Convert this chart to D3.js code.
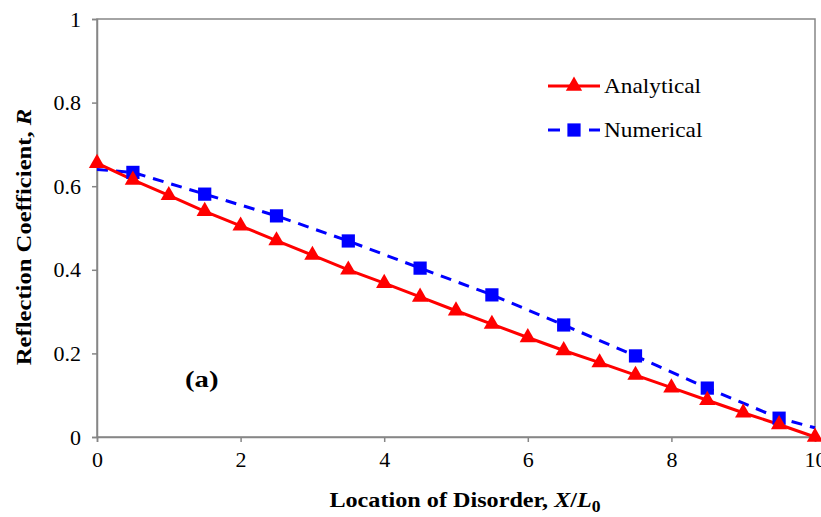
<!DOCTYPE html>
<html><head><meta charset="utf-8">
<script src="https://cdn.jsdelivr.net/npm/d3@7"></script>
<style>body{margin:0;background:#fff}svg{display:block}</style>
</head><body>
<script>
const analyticalX = [0,0.5,1,1.5,2,2.5,3,3.5,4,4.5,5,5.5,6,6.5,7,7.5,8,8.5,9,9.5,10];
const analyticalY = [0.655,0.615,0.578,0.540,0.505,0.470,0.435,0.400,0.368,0.335,0.302,0.270,0.238,0.207,0.178,0.148,0.118,0.088,0.058,0.030,0.0];
const numericalX = [0,0.5,1.5,2.5,3.5,4.5,5.5,6.5,7.5,8.5,9.5,10];
const numericalY = [0.640,0.633,0.581,0.529,0.469,0.404,0.340,0.268,0.194,0.117,0.045,0.022];
const xTicks = [0,2,4,6,8,10];
const yTicks = [0,0.2,0.4,0.6,0.8,1];

const W=821,H=517;
const svg=d3.select("body").append("svg").attr("width",W).attr("height",H);
const L=97,R=815,T=19,B=437;
const x=d3.scaleLinear().domain([0,10]).range([L,R]);
const y=d3.scaleLinear().domain([0,1]).range([B,T]);
const axisColor="#868686";
const serif="'Liberation Serif','Times New Roman',serif";

// plot frame
svg.append("rect").attr("x",L).attr("y",T).attr("width",R-L).attr("height",B-T)
  .attr("fill","none").attr("stroke",axisColor).attr("stroke-width",1.5);

const xa=svg.append("g").attr("transform",`translate(0,${B})`)
  .call(d3.axisBottom(x).tickValues(xTicks).tickSize(5).tickPadding(9).tickFormat(d3.format("d")));
const ya=svg.append("g").attr("transform",`translate(${L},0)`)
  .call(d3.axisLeft(y).tickValues(yTicks).tickSize(5).tickPadding(11).tickFormat(d=>d===0||d===1?String(d):d3.format(".1f")(d)));
[xa,ya].forEach(g=>{
  g.attr("font-family",serif);
  g.selectAll("path,line").attr("stroke",axisColor).attr("stroke-width",1.5);
  g.selectAll("text").attr("font-family",serif).attr("font-size",22).attr("fill","#000");
});

// lines
const line=d3.line().x(d=>x(d[0])).y(d=>y(d[1]));
const aData=analyticalX.map((v,i)=>[v,analyticalY[i]]);
const nData=numericalX.map((v,i)=>[v,numericalY[i]]);
svg.append("path").datum(nData).attr("d",line).attr("fill","none")
  .attr("stroke","#0000FF").attr("stroke-width",3).attr("stroke-dasharray","11,8");
svg.append("path").datum(aData).attr("d",line).attr("fill","none")
  .attr("stroke","#FF0000").attr("stroke-width",3);

const tri=d3.symbol().type(d3.symbolTriangle).size(115);
const sq=d3.symbol().type(d3.symbolSquare).size(175);
svg.selectAll(".sq").data(nData.slice(1,-1)).enter().append("path")
  .attr("d",sq).attr("transform",d=>`translate(${x(d[0])},${y(d[1])})`).attr("fill","#0000FF");
svg.selectAll(".tri").data(aData).enter().append("path")
  .attr("d",tri).attr("transform",d=>`translate(${x(d[0])},${y(d[1])})`).attr("fill","#FF0000");

// legend
const lg=svg.append("g");
lg.append("line").attr("x1",548).attr("x2",600).attr("y1",86).attr("y2",86).attr("stroke","#FF0000").attr("stroke-width",3);
lg.append("path").attr("d",tri).attr("transform","translate(574,86)").attr("fill","#FF0000");
lg.append("text").attr("transform","translate(604,93) scale(1.06,1)").text("Analytical").attr("font-family",serif).attr("font-size",22);
lg.append("line").attr("x1",548).attr("x2",560).attr("y1",130).attr("y2",130).attr("stroke","#0000FF").attr("stroke-width",3);
lg.append("line").attr("x1",589).attr("x2",600).attr("y1",130).attr("y2",130).attr("stroke","#0000FF").attr("stroke-width",3);
lg.append("path").attr("d",sq).attr("transform","translate(574,130)").attr("fill","#0000FF");
lg.append("text").attr("transform","translate(604,137) scale(1.06,1)").text("Numerical").attr("font-family",serif).attr("font-size",22);

// annotation
svg.append("text").attr("transform","translate(185,387) scale(1.25,1)").text("(a)").attr("font-family",serif).attr("font-size",23).attr("font-weight","bold");

// axis titles
const xt=svg.append("text").attr("transform","translate(465,507) scale(1.1,1)").attr("text-anchor","middle")
  .attr("font-family",serif).attr("font-size",22).attr("font-weight","bold");
xt.append("tspan").text("Location of Disorder, ");
xt.append("tspan").attr("font-style","italic").text("X");
xt.append("tspan").text("/");
xt.append("tspan").attr("font-style","italic").text("L");
xt.append("tspan").attr("dy",5).attr("font-size",16).text("0");

const yt=svg.append("text").attr("transform","translate(31,237) rotate(-90) scale(1.12,1)").attr("text-anchor","middle")
  .attr("font-family",serif).attr("font-size",22).attr("font-weight","bold");
yt.append("tspan").text("Reflection Coefficient, ");
yt.append("tspan").attr("font-style","italic").text("R");
</script>
</body></html>
